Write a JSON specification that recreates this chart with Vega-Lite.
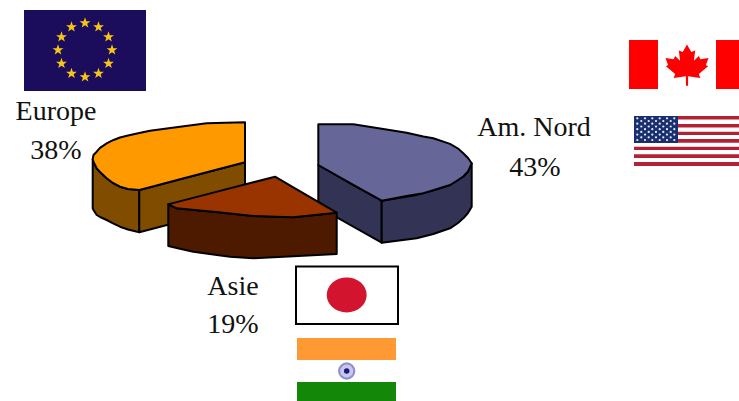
{
"$schema":"https://vega.github.io/schema/vega-lite/v6.json",
"width":739,"height":401,"padding":0,"autosize":{"type":"none"},
"background":"white",
"config":{"view":{"stroke":null}},
"encoding":{
"x":{"field":"x","type":"quantitative","axis":null,"scale":{"domain":[0,739],"nice":false,"zero":false}},
"y":{"field":"y","type":"quantitative","axis":null,"scale":{"domain":[401,0],"nice":false,"zero":false}},
"fill":{"field":"part","type":"nominal","legend":null,"scale":{
"domain":["eu","eustar","ca_red","us_red","us_blue","us_star","jp_border","jp_white","jp_disc","in_orange","in_green","in_ring","in_inner","in_hub","or_side_l","or_side_r","or_top","bl_side_l","bl_side_r","bl_top","rd_side","rd_top","label"],
"range":["#1c0d5c","#f5c518","#ff0000","#b22234","#1a2f6e","#e8ecf8","#000000","#ffffff","#d2142f","#ff9933","#138808","#8f8fd0","#c8c8ea","#1a1a80","#804d00","#804d00","#ff9900","#333355","#333355","#666699","#4d1a00","#993300","#111111"]}}
},
"layer":[
{"mark":{"type":"rect","strokeWidth":0},
"encoding":{"x2":{"field":"x2"},"y2":{"field":"y2"}},
"data":{"values":[
{"part":"eu","x":24,"x2":146,"y":10,"y2":91},
{"part":"ca_red","x":629,"x2":658,"y":40,"y2":89},
{"part":"ca_red","x":716,"x2":739,"y":40,"y2":89},
{"part":"us_red","x":634,"x2":739,"y":116,"y2":119.5},
{"part":"us_red","x":634,"x2":739,"y":124,"y2":127.5},
{"part":"us_red","x":634,"x2":739,"y":131.7,"y2":135},
{"part":"us_red","x":634,"x2":739,"y":139,"y2":142.7},
{"part":"us_red","x":634,"x2":739,"y":146.7,"y2":150},
{"part":"us_red","x":634,"x2":739,"y":154.3,"y2":158},
{"part":"us_red","x":634,"x2":739,"y":162,"y2":166},
{"part":"us_blue","x":634,"x2":678,"y":116,"y2":143},
{"part":"jp_border","x":295,"x2":399,"y":265.5,"y2":325},
{"part":"jp_white","x":297,"x2":397,"y":267.5,"y2":323},
{"part":"in_orange","x":297,"x2":396,"y":338,"y2":360},
{"part":"in_green","x":297,"x2":396,"y":382,"y2":401}
]}},
{"mark":{"type":"point","filled":true,"opacity":1,"strokeWidth":0,"shape":"M0,-1 L.24,-.32 L.95,-.31 L.38,.12 L.59,.81 L0,.4 L-.59,.81 L-.38,.12 L-.95,-.31 L-.24,-.32 Z","size":130},
"data":{"values":[
{"part":"eustar","x":85,"y":23},{"part":"eustar","x":98.5,"y":27},{"part":"eustar","x":108.5,"y":37},{"part":"eustar","x":112,"y":50},{"part":"eustar","x":108.5,"y":63.5},{"part":"eustar","x":98.5,"y":73.5},{"part":"eustar","x":85,"y":77},{"part":"eustar","x":71.5,"y":73.5},{"part":"eustar","x":61.5,"y":63.5},{"part":"eustar","x":58,"y":50},{"part":"eustar","x":61.5,"y":37},{"part":"eustar","x":71.5,"y":27}
]}},
{"mark":{"type":"point","filled":true,"opacity":1,"strokeWidth":0,"shape":"M0,-.95 L.2,-.6 L.38,-.68 L.32,-.2 L.55,-.42 L.62,-.27 L1,-.32 L.88,0 L.98,.06 L.55,.42 L.62,.6 L.05,.52 L.05,.97 L-.05,.97 L-.05,.52 L-.62,.6 L-.55,.42 L-.98,.06 L-.88,0 L-1,-.32 L-.62,-.27 L-.55,-.42 L-.32,-.2 L-.38,-.68 L-.2,-.6 Z","size":1849},
"data":{"values":[{"part":"ca_red","x":687,"y":65}]}},
{"mark":{"type":"point","filled":true,"opacity":1,"strokeWidth":0,"shape":"circle","size":5},
"data":{"values":[
{"part":"us_star","x":637.3,"y":118.3},{"part":"us_star","x":645,"y":118.3},{"part":"us_star","x":652.3,"y":118.3},{"part":"us_star","x":659.7,"y":118.3},{"part":"us_star","x":667,"y":118.3},{"part":"us_star","x":674.3,"y":118.3},
{"part":"us_star","x":641.3,"y":121},{"part":"us_star","x":648.7,"y":121},{"part":"us_star","x":656,"y":121},{"part":"us_star","x":663.3,"y":121},{"part":"us_star","x":670.7,"y":121},
{"part":"us_star","x":637.3,"y":123.7},{"part":"us_star","x":645,"y":123.7},{"part":"us_star","x":652.3,"y":123.7},{"part":"us_star","x":659.7,"y":123.7},{"part":"us_star","x":667,"y":123.7},{"part":"us_star","x":674.3,"y":123.7},
{"part":"us_star","x":641.3,"y":126.5},{"part":"us_star","x":648.7,"y":126.5},{"part":"us_star","x":656,"y":126.5},{"part":"us_star","x":663.3,"y":126.5},{"part":"us_star","x":670.7,"y":126.5},
{"part":"us_star","x":637.3,"y":129.2},{"part":"us_star","x":645,"y":129.2},{"part":"us_star","x":652.3,"y":129.2},{"part":"us_star","x":659.7,"y":129.2},{"part":"us_star","x":667,"y":129.2},{"part":"us_star","x":674.3,"y":129.2},
{"part":"us_star","x":641.3,"y":131.9},{"part":"us_star","x":648.7,"y":131.9},{"part":"us_star","x":656,"y":131.9},{"part":"us_star","x":663.3,"y":131.9},{"part":"us_star","x":670.7,"y":131.9},
{"part":"us_star","x":637.3,"y":134.6},{"part":"us_star","x":645,"y":134.6},{"part":"us_star","x":652.3,"y":134.6},{"part":"us_star","x":659.7,"y":134.6},{"part":"us_star","x":667,"y":134.6},{"part":"us_star","x":674.3,"y":134.6},
{"part":"us_star","x":641.3,"y":137.3},{"part":"us_star","x":648.7,"y":137.3},{"part":"us_star","x":656,"y":137.3},{"part":"us_star","x":663.3,"y":137.3},{"part":"us_star","x":670.7,"y":137.3},
{"part":"us_star","x":637.3,"y":140},{"part":"us_star","x":645,"y":140},{"part":"us_star","x":652.3,"y":140},{"part":"us_star","x":659.7,"y":140},{"part":"us_star","x":667,"y":140},{"part":"us_star","x":674.3,"y":140}
]}},
{"mark":{"type":"point","filled":true,"opacity":1,"strokeWidth":0,"shape":"M-1,0 A1,.87 0 1,1 1,0 A1,.87 0 1,1 -1,0 Z","size":1600},
"data":{"values":[{"part":"jp_disc","x":346.7,"y":295}]}},
{"mark":{"type":"point","filled":true,"opacity":1,"strokeWidth":0,"shape":"circle","size":300},
"data":{"values":[{"part":"in_ring","x":346.7,"y":371}]}},
{"mark":{"type":"point","filled":true,"opacity":1,"strokeWidth":0,"shape":"circle","size":170},
"data":{"values":[{"part":"in_inner","x":346.7,"y":371}]}},
{"mark":{"type":"point","filled":true,"opacity":1,"strokeWidth":0,"shape":"circle","size":30},
"data":{"values":[{"part":"in_hub","x":346.7,"y":371}]}},
{"mark":{"type":"area","stroke":"black","strokeWidth":2,"strokeJoin":"round","interpolate":"linear"},
"encoding":{"y2":{"field":"y2"}},
"data":{"values":[
{"part":"or_side_l","x":92.7,"y":159.3,"y2":208.3},{"part":"or_side_l","x":93.5,"y":162,"y2":210},{"part":"or_side_l","x":96.7,"y":168.3,"y2":215},{"part":"or_side_l","x":100,"y":172,"y2":217},{"part":"or_side_l","x":106.7,"y":178.3,"y2":220},{"part":"or_side_l","x":113,"y":183,"y2":223.3},{"part":"or_side_l","x":120,"y":186.7,"y2":226.7},{"part":"or_side_l","x":128,"y":189,"y2":229.5},{"part":"or_side_l","x":139.3,"y":190,"y2":232.3},
{"part":"or_side_r","x":139.3,"y":190,"y2":232.3},{"part":"or_side_r","x":245,"y":162.3,"y2":204.6},
{"part":"or_top","x":92.7,"y":159.3,"y2":159.3},{"part":"or_top","x":93.5,"y":155,"y2":162},{"part":"or_top","x":96.7,"y":151.7,"y2":168.3},{"part":"or_top","x":100,"y":147.8,"y2":172},{"part":"or_top","x":106.7,"y":143.3,"y2":178.3},{"part":"or_top","x":113,"y":140.2,"y2":183},{"part":"or_top","x":120,"y":137.5,"y2":186.7},{"part":"or_top","x":128,"y":135.5,"y2":189},{"part":"or_top","x":139.3,"y":133.1,"y2":190},{"part":"or_top","x":150,"y":130.7,"y2":187.2},{"part":"or_top","x":180,"y":126.7,"y2":179.3},{"part":"or_top","x":206.7,"y":123.3,"y2":172.3},{"part":"or_top","x":245,"y":122.3,"y2":162.3},
{"part":"bl_side_l","x":318.3,"y":165,"y2":207},{"part":"bl_side_l","x":381.7,"y":200.7,"y2":242.7},
{"part":"bl_side_r","x":381.7,"y":200.7,"y2":242.7},{"part":"bl_side_r","x":416.7,"y":194.9,"y2":238.3},{"part":"bl_side_r","x":433.3,"y":190.2,"y2":234},{"part":"bl_side_r","x":450,"y":185,"y2":228.3},{"part":"bl_side_r","x":458,"y":180,"y2":223},{"part":"bl_side_r","x":463.3,"y":176.5,"y2":218.3},{"part":"bl_side_r","x":468,"y":171.5,"y2":213},{"part":"bl_side_r","x":471.7,"y":163.3,"y2":206.7},
{"part":"bl_top","x":318.3,"y":124.3,"y2":165},{"part":"bl_top","x":353.3,"y":124.3,"y2":185},{"part":"bl_top","x":381.7,"y":128.8,"y2":200.7},{"part":"bl_top","x":406.7,"y":132.7,"y2":196},{"part":"bl_top","x":423.3,"y":136.5,"y2":193.3},{"part":"bl_top","x":433.3,"y":138.3,"y2":190.2},{"part":"bl_top","x":450,"y":143.9,"y2":185},{"part":"bl_top","x":458,"y":148.5,"y2":180},{"part":"bl_top","x":463.3,"y":153.3,"y2":176.5},{"part":"bl_top","x":468,"y":158,"y2":171.5},{"part":"bl_top","x":471.7,"y":163.3,"y2":163.3},
{"part":"rd_side","x":168.3,"y":204.3,"y2":246},{"part":"rd_side","x":176.7,"y":208.3,"y2":248},{"part":"rd_side","x":193.3,"y":210,"y2":251.7},{"part":"rd_side","x":213.3,"y":211.7,"y2":254.5},{"part":"rd_side","x":230,"y":213.5,"y2":256.7},{"part":"rd_side","x":253.3,"y":216,"y2":258.2},{"part":"rd_side","x":293.3,"y":217.3,"y2":256.3},{"part":"rd_side","x":336.7,"y":212.7,"y2":254},
{"part":"rd_top","x":168.3,"y":204.3,"y2":204.3},{"part":"rd_top","x":176.7,"y":202.1,"y2":208.3},{"part":"rd_top","x":213.3,"y":192.6,"y2":211.7},{"part":"rd_top","x":253.3,"y":182.3,"y2":216},{"part":"rd_top","x":275,"y":176.7,"y2":216.8},{"part":"rd_top","x":293.3,"y":187.4,"y2":217.3},{"part":"rd_top","x":336.7,"y":212.7,"y2":212.7}
]}},
{"mark":{"type":"text","font":"Liberation Serif","fontSize":28,"align":"center","baseline":"alphabetic"},
"encoding":{"text":{"field":"label"}},
"data":{"values":[
{"part":"label","label":"Europe","x":56,"y":120},
{"part":"label","label":"38%","x":56,"y":159},
{"part":"label","label":"Am. Nord","x":534,"y":136},
{"part":"label","label":"43%","x":535,"y":176},
{"part":"label","label":"Asie","x":233,"y":295},
{"part":"label","label":"19%","x":233,"y":333}
]}}
]
}
